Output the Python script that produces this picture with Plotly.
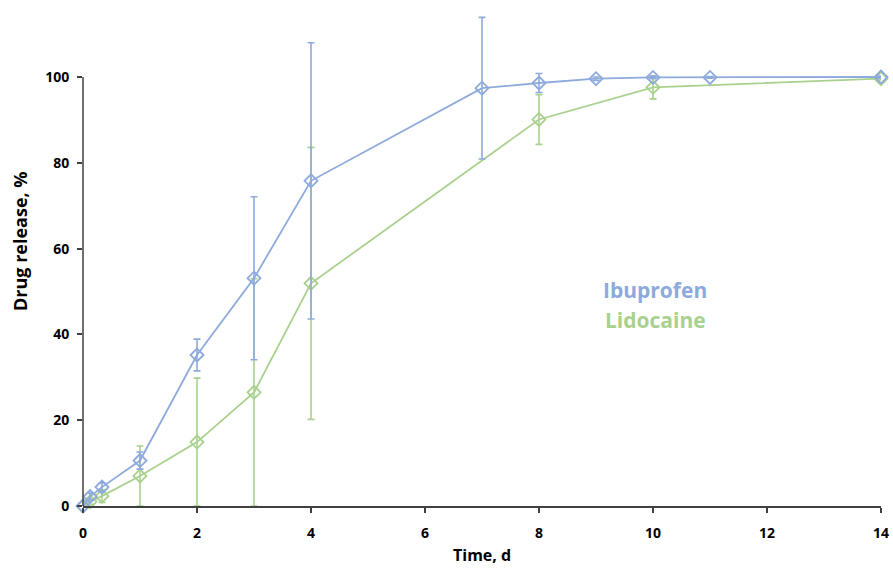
import plotly.graph_objects as go

ibu_t = [0, 0.125, 0.333, 1, 2, 3, 4, 7, 8, 9, 10, 11, 14]
ibu_v = [0, 2.2, 4.4, 10.6, 35.2, 53.1, 75.8, 97.4, 98.6, 99.6, 99.9, 99.9, 100]
ibu_e = [0, 0.8, 1.0, 2.0, 3.7, 19.0, 32.2, 16.5, 2.2, 0.4, 0.3, 0.2, 0.2]

lid_t = [0, 0.125, 0.333, 1, 2, 3, 4, 8, 10, 14]
lid_v = [0, 1.0, 2.3, 7.0, 14.9, 26.5, 51.9, 90.1, 97.6, 99.6]
lid_e = [0, 0.6, 1.5, 7.0, 14.9, 26.5, 31.7, 5.8, 2.7, 0.3]

x_ticks = [0, 2, 4, 6, 8, 10, 12, 14]
y_ticks = [0, 20, 40, 60, 80, 100]

BLUE = "#8EAADC"
GREEN = "#A9D18E"
FONT = "Open Sans"

W, H = 893, 568
L, R, B, Y100 = 83, 881, 506, 77
PX_PER_UNIT = (B - Y100) / 100.0
y_top = B / PX_PER_UNIT

fig = go.Figure()
for t, v, e, c, name in [(lid_t, lid_v, lid_e, GREEN, "Lidocaine"),
                         (ibu_t, ibu_v, ibu_e, BLUE, "Ibuprofen")]:
    fig.add_trace(go.Scatter(
        x=t, y=v, name=name, mode="lines+markers", cliponaxis=False,
        line=dict(color=c, width=1.8),
        marker=dict(symbol="diamond-open", size=10, color=c, line=dict(width=1.8, color=c)),
        error_y=dict(type="data", array=e, visible=True, color=c, thickness=1.6, width=3.5),
    ))


def px(xp):
    return (xp - L) / (R - L)


def py(yp):
    return (B - yp) / B


def label(xp, yp, text, size, color, angle=0):
    fig.add_annotation(xref="paper", yref="paper", x=px(xp), y=py(yp),
                       xanchor="center", yanchor="middle",
                       text=text, showarrow=False, textangle=angle,
                       font=dict(family=FONT, size=size, color=color))


label(655, 290, "<b>Ibuprofen</b>", 21, BLUE)
label(655, 320, "<b>Lidocaine</b>", 21, GREEN)
label(482, 555, "<b>Time, d</b>", 16, "black")
label(20, 241, "<b>Drug release, %</b>", 18, "black", angle=-90)

# y axis line only up to 100
fig.add_shape(type="line", xref="paper", yref="y", x0=0, x1=0, y0=0, y1=100,
              line=dict(color="#404040", width=1.5))

fig.update_layout(
    width=W, height=H,
    margin=dict(l=L, r=W - R, t=0, b=H - B),
    plot_bgcolor="white", paper_bgcolor="white",
    showlegend=False,
    font=dict(family=FONT, size=14, color="black"),
)
fig.update_xaxes(
    range=[0, 14], tickvals=x_ticks, automargin=False,
    showgrid=False, zeroline=False,
    showline=True, linecolor="#404040", linewidth=1.5,
    ticks="outside", ticklen=5, tickcolor="#404040", tickwidth=1.5,
    ticklabelstandoff=8,
    tickfont=dict(family=FONT, size=14, color="black", weight="bold"),
)
fig.update_yaxes(
    range=[0, y_top], tickvals=y_ticks, automargin=False,
    showgrid=False, zeroline=False, showline=False,
    ticks="outside", ticklen=5, tickcolor="#404040", tickwidth=1.5,
    ticklabelstandoff=5,
    tickfont=dict(family=FONT, size=14, color="black", weight="bold"),
)

fig.write_html(
    "out.html",
    config={"displayModeBar": False},
    post_script="document.body.style.margin='0';document.body.style.overflow='hidden';",
)
